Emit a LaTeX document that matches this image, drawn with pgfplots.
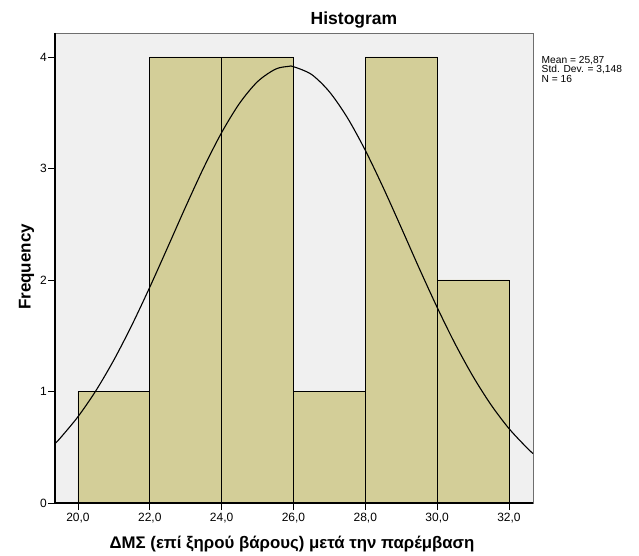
\documentclass[border=0pt]{standalone}
\usepackage{fontspec}
\setmainfont{Liberation Sans}
\usepackage{pgfplots}
\pgfplotsset{compat=1.18}
\definecolor{barfill}{RGB}{211,206,152}
\definecolor{plotbg}{RGB}{240,240,240}
\definecolor{framegray}{RGB}{110,110,110}
\begin{document}
\begin{tikzpicture}[x=1pt,y=1pt]
\path[use as bounding box] (0,0) rectangle (639,555);
\begin{axis}[
  at={(55pt,52pt)}, anchor=south west,
  width=478pt, height=470pt, scale only axis,
  xmin=19.36, xmax=32.67, ymin=0, ymax=4.215,
  axis background/.style={fill=plotbg},
  axis line style={draw=framegray, line width=0.8pt},
  tick align=outside,
  xtick pos=bottom, ytick pos=left,
  major tick length=7pt,
  tick style={black, line width=0.8pt},
  xtick={20,22,24,26,28,30,32},
  xticklabels={{20,0},{22,0},{24,0},{26,0},{28,0},{30,0},{32,0}},
  ytick={0,1,2,3,4},
  yticklabels={0,1,2,3,4},
  ticklabel style={font=\fontsize{12}{14}\selectfont},
  xticklabel style={inner sep=1pt, yshift=-2pt},
  yticklabel style={inner sep=1pt},
  clip=false,
]
\addplot[ybar interval, fill=barfill, draw=black, line width=0.8pt]
  coordinates {(20,1) (22,4) (24,4) (26,1) (28,4) (30,2) (32,2)};
\addplot[smooth, black, line width=1.1pt, mark=none] coordinates {
(19.36,0.533) (19.5,0.580) (20,0.774) (20.5,1.008) (21,1.283) (21.5,1.595)
(22,1.936) (22.5,2.295) (23,2.658) (23.5,3.007) (24,3.322) (24.5,3.585)
(25,3.779) (25.5,3.891) (25.87,3.916) (26,3.913) (26.5,3.844) (27,3.688)
(27.5,3.456) (28,3.163) (28.5,2.828) (29,2.470) (29.5,2.106) (30,1.755)
(30.5,1.428) (31,1.135) (31.5,0.881) (32,0.668) (32.5,0.495) (32.67,0.444)};
\draw[black, line width=1.2pt] (rel axis cs:0,1) -- (rel axis cs:0,0) -- (rel axis cs:1,0);
\end{axis}
\node[anchor=base, font=\bfseries\fontsize{17.5}{19}\selectfont, inner sep=0pt] at (354,530) {Histogram};
\node[anchor=base west, font=\fontsize{10.2}{7.8}\selectfont, inner sep=0pt, align=left] at (541.5,472.8)
  {Mean = 25,87\\Std. Dev. = 3,148\\N = 16};
\node[anchor=base, rotate=90, font=\bfseries\fontsize{17}{19}\selectfont, inner sep=0pt] at (30.5,288) {Frequency};
\node[anchor=base, font=\bfseries\fontsize{16.8}{19}\selectfont, inner sep=0pt] at (292,7) {ΔΜΣ (επί ξηρού βάρους) μετά την παρέμβαση};
\end{tikzpicture}
\end{document}
